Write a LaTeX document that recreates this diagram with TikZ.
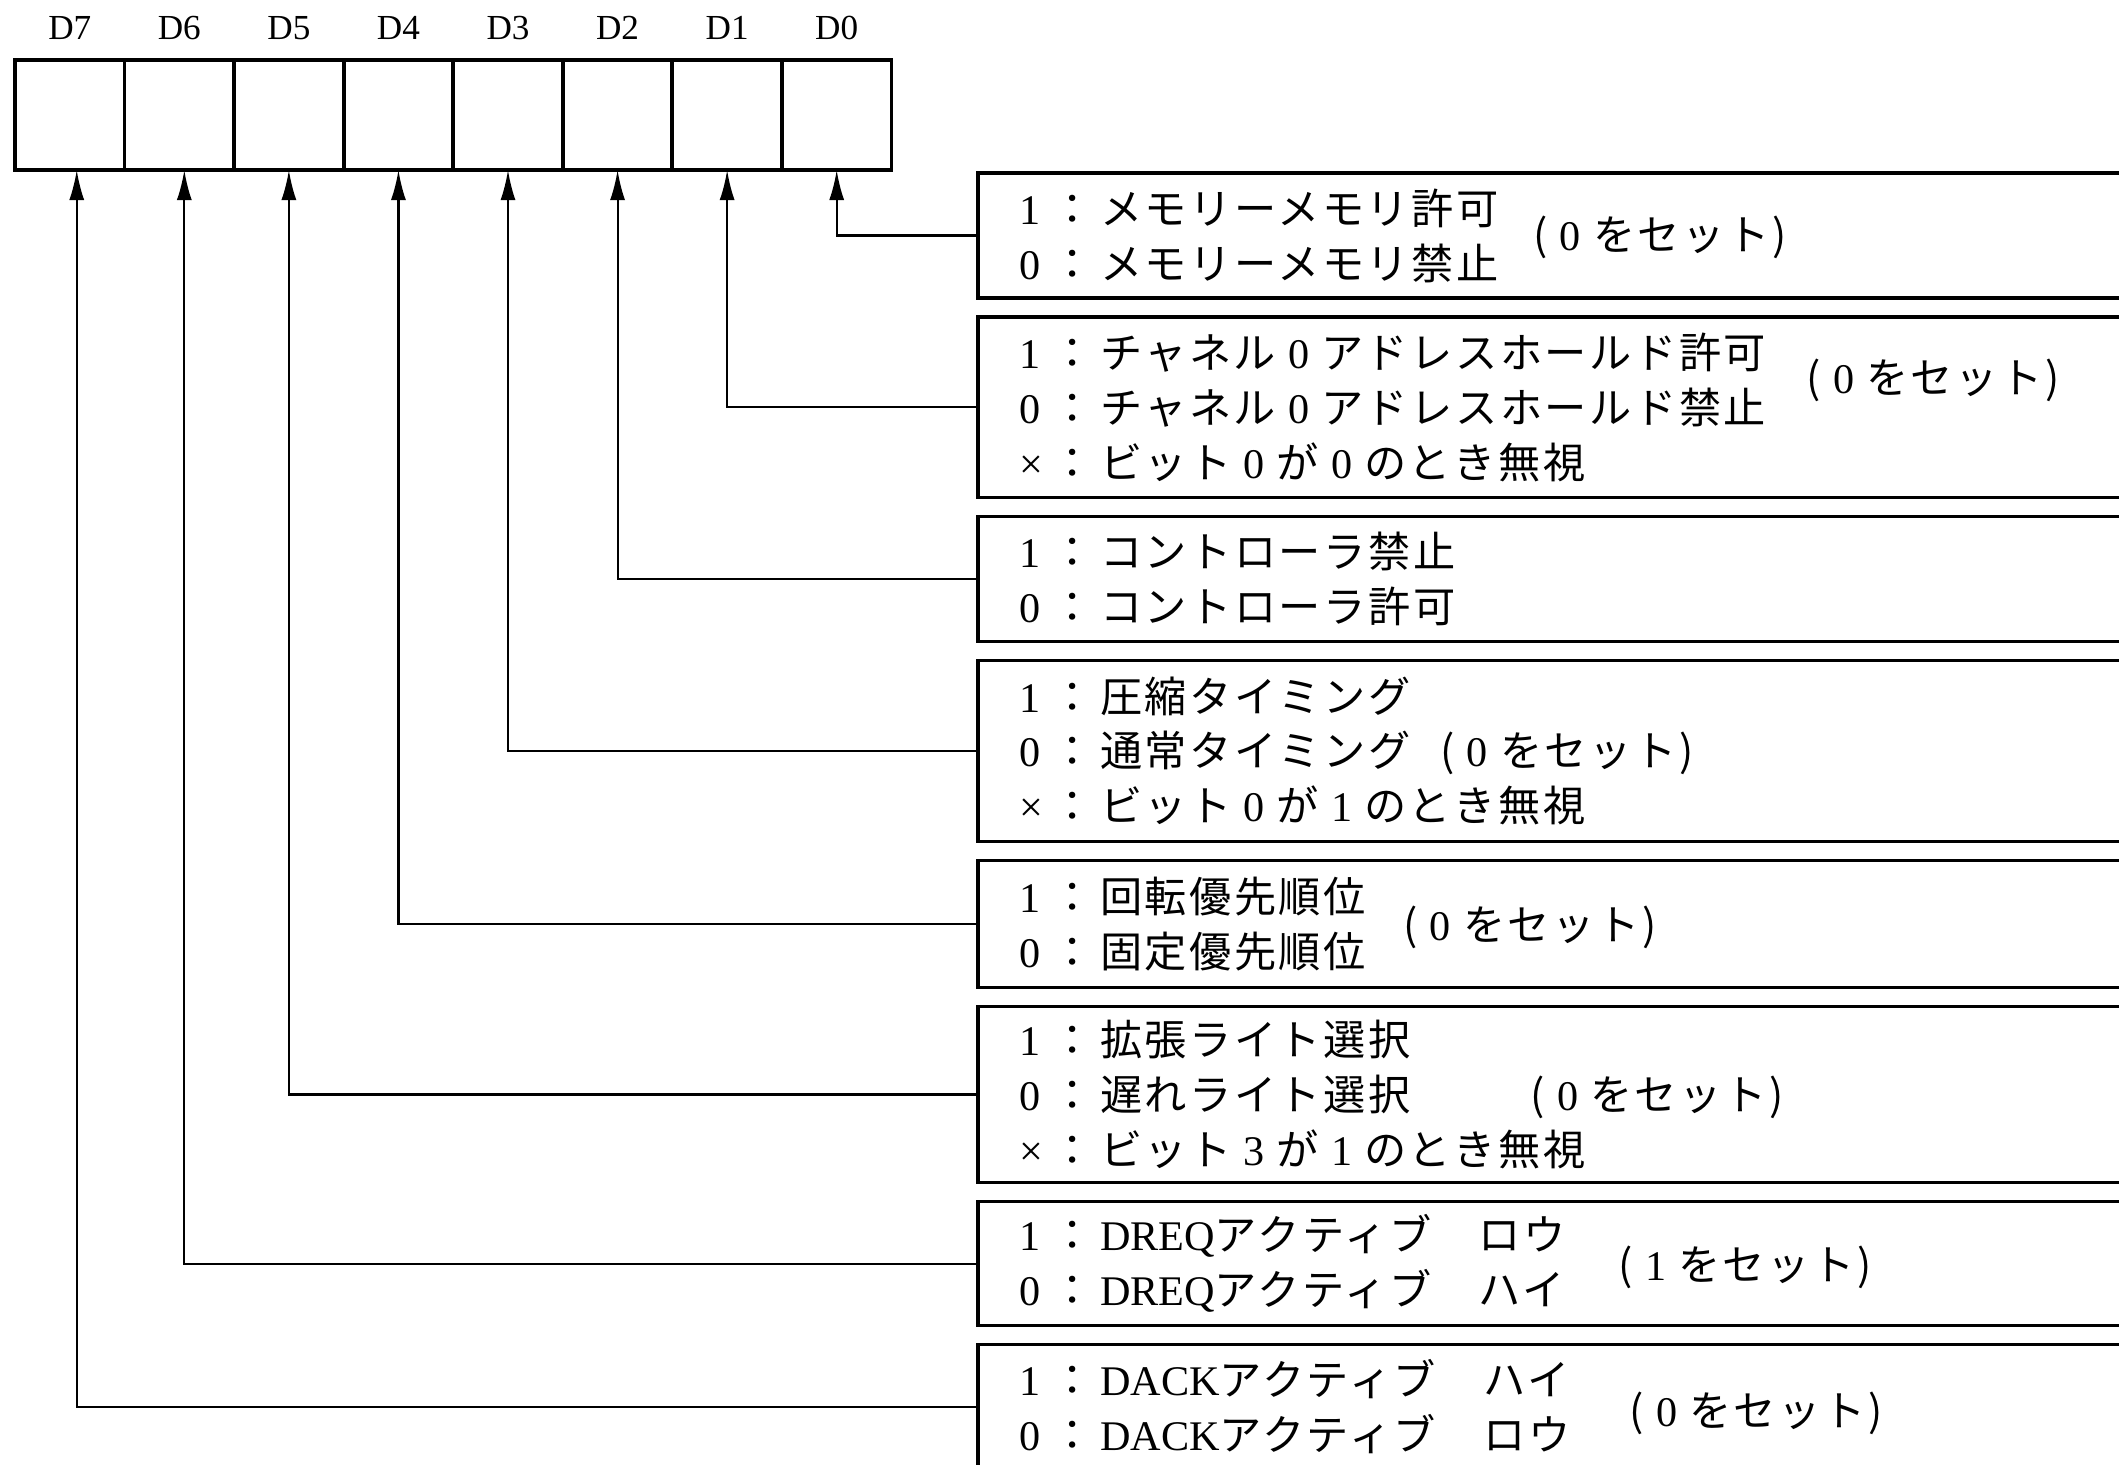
\documentclass[tikz,border=0pt]{standalone}
\usepackage{fontspec}
\usepackage{tikz}
\usetikzlibrary{positioning,arrows.meta}
\setmainfont{Noto Sans CJK JP}[LetterSpace=6]
\newfontfamily\tnr{Liberation Serif}
\newcommand{\bitv}[1]{\makebox[0.32cm][l]{\tnr #1}\makebox[0.49cm][l]{：}}
\newcommand{\dig}[1]{\hspace{0.12cm}{\tnr #1}\hspace{0.12cm}}
\tikzset{
  celda/.style={rectangle, draw, line width=1.1pt, minimum width=1.095cm,
    minimum height=1.1cm, inner sep=0pt, outer sep=0pt},
  etq/.style={font=\tnr\fontsize{10}{10}\selectfont, inner sep=0pt, outer sep=0pt},
  expl/.style={rectangle, draw, line width=0.9pt, anchor=north west, outer sep=0pt,
    inner xsep=0.41cm, inner ysep=0pt, text width=11.4cm, align=left,
    font=\fontsize{12}{15.6}\selectfont},
  nota/.style={anchor=west, inner sep=0pt, font=\fontsize{12}{15.6}\selectfont},
  conector/.style={-{Latex[length=3mm,width=1.5mm]}, line width=0.6pt},
}
\begin{document}
\begin{tikzpicture}[x=0.01cm, y=0.01cm]
  \useasboundingbox (0,0) rectangle (2119,-1464);
  \clip (0,0) rectangle (2119,-1464);
  % register
  \node[celda] (c7) at (69.75,-115) {};
  \node[celda, right=0pt of c7] (c6) {};
  \node[celda, right=0pt of c6] (c5) {};
  \node[celda, right=0pt of c5] (c4) {};
  \node[celda, right=0pt of c4] (c3) {};
  \node[celda, right=0pt of c3] (c2) {};
  \node[celda, right=0pt of c2] (c1) {};
  \node[celda, right=0pt of c1] (c0) {};
  \node[etq, above=0.2cm of c7] (d7) {D7};
  \node[etq, above=0.2cm of c6] (d6) {D6};
  \node[etq, above=0.2cm of c5] (d5) {D5};
  \node[etq, above=0.2cm of c4] (d4) {D4};
  \node[etq, above=0.2cm of c3] (d3) {D3};
  \node[etq, above=0.2cm of c2] (d2) {D2};
  \node[etq, above=0.2cm of c1] (d1) {D1};
  \node[etq, above=0.2cm of c0] (d0) {D0};
  % bit descriptions
  \node[expl, minimum height=1.25cm] (b0) at (978,-173)
    {\bitv{1}メモリーメモリ許可\\\bitv{0}メモリーメモリ禁止};
  \node[expl, minimum height=1.8cm, below=0.19cm of b0] (b1)
    {\bitv{1}チャネル\dig{0}アドレスホールド許可\\\bitv{0}チャネル\dig{0}アドレスホールド禁止\\\bitv{×}ビット\dig{0}が\dig{0}のとき無視};
  \node[expl, minimum height=1.25cm, below=0.19cm of b1] (b2)
    {\bitv{1}コントローラ禁止\\\bitv{0}コントローラ許可};
  \node[expl, minimum height=1.81cm, below=0.19cm of b2] (b3)
    {\bitv{1}圧縮タイミング\\\bitv{0}通常タイミング\hspace{0.3cm}(\dig{0}をセット)\\\bitv{×}ビット\dig{0}が\dig{1}のとき無視};
  \node[expl, minimum height=1.27cm, below=0.19cm of b3] (b4)
    {\bitv{1}回転優先順位\\\bitv{0}固定優先順位};
  \node[expl, minimum height=1.76cm, below=0.19cm of b4] (b5)
    {\bitv{1}拡張ライト選択\\\bitv{0}遅れライト選択\hspace{1.2cm}(\dig{0}をセット)\\\bitv{×}ビット\dig{3}が\dig{1}のとき無視};
  \node[expl, minimum height=1.24cm, below=0.19cm of b5] (b6)
    {\bitv{1}{\tnr DREQ}アクティブ　ロウ\\\bitv{0}{\tnr DREQ}アクティブ　ハイ};
  \node[expl, minimum height=1.24cm, below=0.19cm of b6] (b7)
    {\bitv{1}{\tnr DACK}アクティブ　ハイ\\\bitv{0}{\tnr DACK}アクティブ　ロウ};
  \node[nota] (n0) at (1533,-237) {(\dig{0}をセット)};
  \node[nota] (n1) at (1806,-380) {(\dig{0}をセット)};
  \node[nota] (n4) at (1403,-927) {(\dig{0}をセット)};
  \node[nota] (n6) at (1618,-1267) {(\dig{1}をセット)};
  \node[nota] (n7) at (1629,-1413) {(\dig{0}をセット)};
  % connectors
  \draw[conector] (b0.west) -| (c0.south);
  \draw[conector] (b1.west) -| (c1.south);
  \draw[conector] (b2.west) -| (c2.south);
  \draw[conector] (b3.west) -| (c3.south);
  \draw[conector] (b4.west) -| (c4.south);
  \draw[conector] (b5.west) -| (c5.south);
  \draw[conector] (b6.west) -| ([xshift=0.05cm]c6.south);
  \draw[conector] (b7.west) -| ([xshift=0.07cm]c7.south);
\end{tikzpicture}
\end{document}
